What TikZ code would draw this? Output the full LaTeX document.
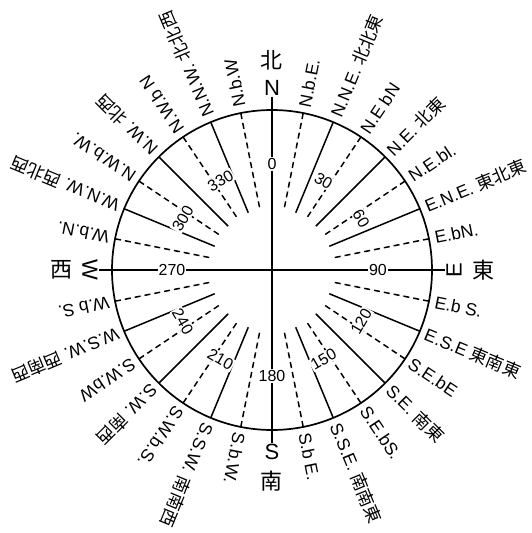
\documentclass[tikz,border=0pt]{standalone}
\usepackage{fontspec}
\setmainfont{Liberation Sans}
\newfontfamily\cjk{Noto Sans CJK JP}
\usepackage{tikz}
\usetikzlibrary{positioning}
\tikzset{
  cerchio/.style={line width=1.7pt},
  raggio/.style={line width=1.5pt},
  tratteggio/.style={line width=1.5pt,dash pattern=on 6pt off 4pt},
  rombo/.style={font=\fontsize{17.5}{20}\selectfont,inner sep=1pt,anchor=west},
  grado/.style={font=\fontsize{16}{18}\selectfont,fill=white,inner sep=1pt},
  cardinale/.style={font=\fontsize{22}{25}\selectfont,inner sep=1pt}
}

\begin{document}
\begin{tikzpicture}[x=1pt,y=1pt]
\useasboundingbox (-272,-263) rectangle (259,270);

% cerchio della rosa dei venti
\draw[cerchio] (0,0) circle (160);

% punti cardinali
\node[cardinale] (N) at (90:182) {N};
\node[cardinale] (bei) at (90:210) {\cjk 北};
\node[cardinale] (S) at (270:182) {S};
\node[cardinale] (nan) at (270:211) {\cjk 南};
\node[cardinale,rotate=90] (E) at (0:182) {E};
\node[cardinale] (dong) at (0:211) {\cjk 東};
\node[cardinale,rotate=-90] (W) at (180:182) {W};
\node[cardinale] (xi) at (180:210) {\cjk 西};

% assi
\draw[raggio] (N) -- (S);
\draw[raggio] (W) -- (E);

% rombi intermedi (pieni e tratteggiati)
\foreach \k in {1,...,31}{
  \pgfmathtruncatemacro\m{mod(\k,8)}
  \pgfmathsetmacro\a{90-\k*11.25}
  \ifnum\m>0
    \ifodd\k
      \draw[tratteggio] (\a:160) -- (\a:62);
    \else
      \draw[raggio] (\a:160) -- (\a:62);
    \fi
  \fi
}

% gradi
\node[grado] (g0) at (90:106) {0};
\node[grado] (g90) at (0:106) {90};
\node[grado] (g180) at (270:106) {180};
\node[grado] (g270) at (180:100) {270};
\foreach \g/\r in {30/-30, 60/-60, 120/60, 150/30, 210/-30, 240/-60, 300/60, 330/30}{
  \node[grado,rotate=\r] (g\g) at (90-\g:103) {\g};
}

% nomi dei rombi
\foreach \b/\t [count=\i] in {
  11.25/{N.b.E.}, 22.5/{N.N.E. \cjk 北北東}, 33.75/{N.E bN},
  45/{N.E. \cjk 北東}, 56.25/{N.E.bl.}, 67.5/{E.N.E. \cjk 東北東},
  78.75/{E.bN.}, 101.25/{E.b S.}, 112.5/{E.S.E \cjk 東南東},
  123.75/{S.E.bE}, 135/{S.E. \cjk 南東}, 146.25/{S.E.bS.},
  157.5/{S.S.E. \cjk 南南東}, 168.75/{S.b E.}, 191.25/{S.b.W.},
  202.5/{S.S.W. \cjk 南南西}, 213.75/{S.W.b.S.}, 225/{S.W. \cjk 南西},
  236.25/{S.W.bW}, 247.5/{W.S.W. \cjk 西南西}, 258.75/{W.b S.},
  281.25/{W.b.N.}, 292.5/{W.N.W. \cjk 西北西}, 303.75/{N.W.b.W.},
  315/{N.W. \cjk 北西}, 326.25/{N.W.b N}, 337.5/{N.N.W. \cjk 北北西},
  348.75/{N.b.W}
}{
  \node[rombo,rotate=90-\b] (r\i) at (90-\b:165) {\t};
}

\end{tikzpicture}
\end{document}
